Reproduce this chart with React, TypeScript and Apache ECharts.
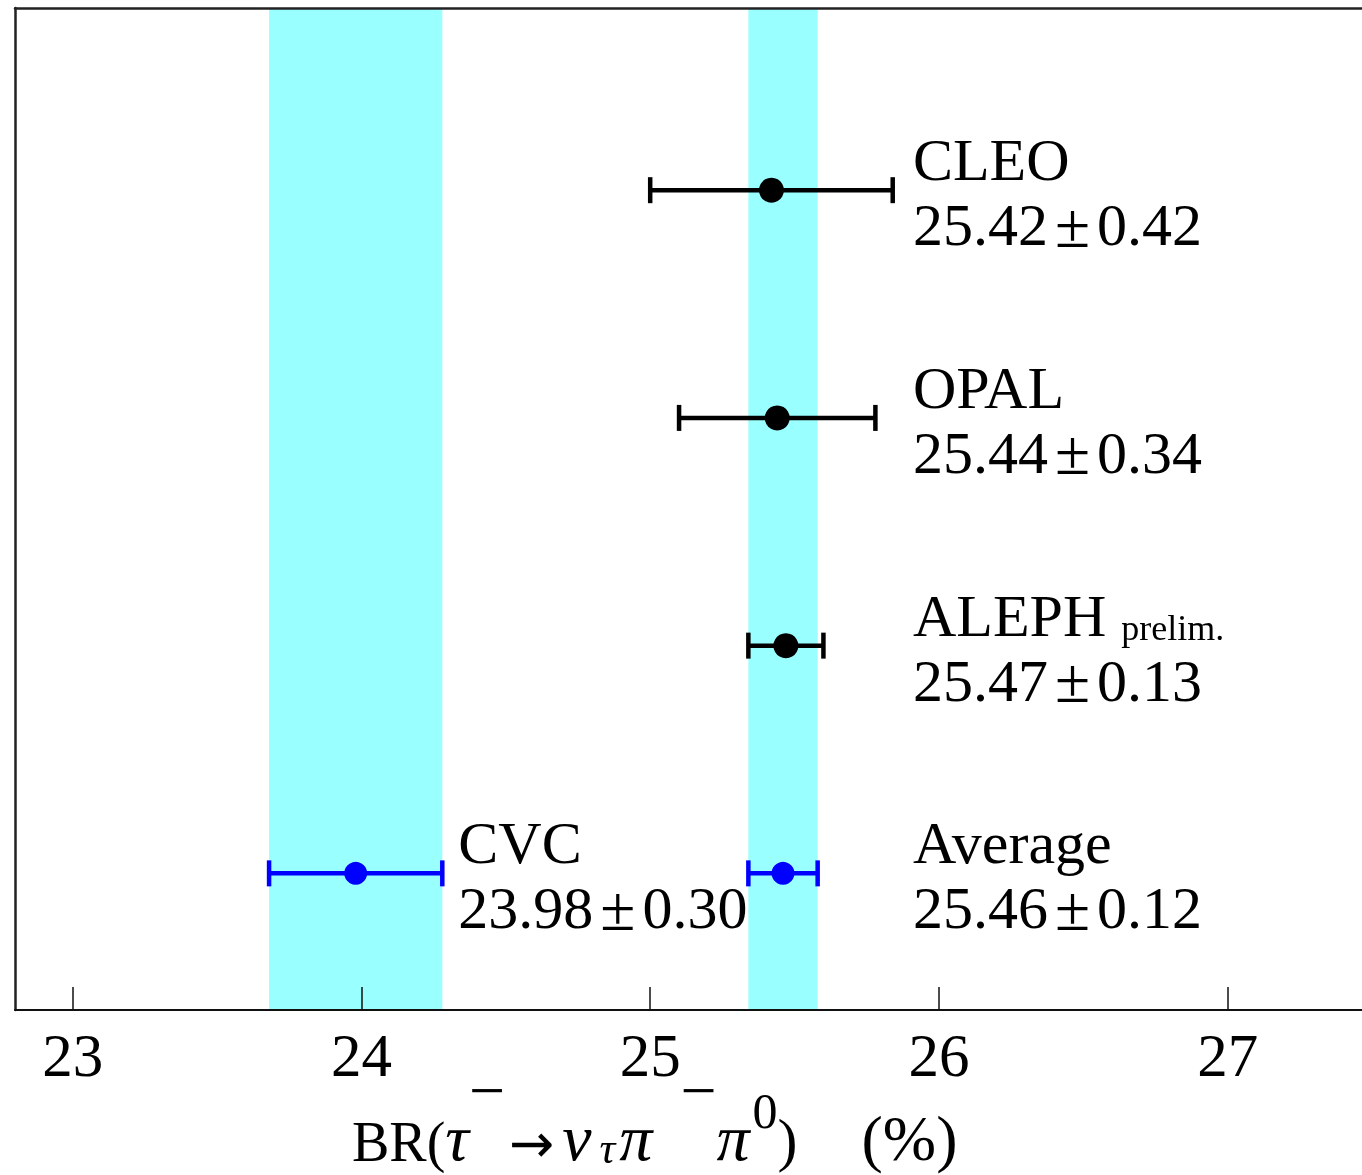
import React, { useEffect, useRef } from "react";
import * as echarts from "echarts";

// ---- data ----
const EXPERIMENTS = ["CLEO", "OPAL", "ALEPH", "Average"];
const NOTES = ["", "", "prelim.", ""];
const ROWS = [4, 3, 2, 1];
const VALUES = [25.42, 25.44, 25.47, 25.46];
const ERRORS = [0.42, 0.34, 0.13, 0.12];
const POINT_COLORS = ["#000000", "#000000", "#000000", "#0000ff"];

const CVC_NAME = "CVC";
const CVC_VALUE = 23.98;
const CVC_ERROR = 0.3;
const CVC_ROW = 1;

const X_TICKS = [23, 24, 25, 26, 27];
const X_MIN = 22.8;
const X_MAX = 27.5;
const Y_MIN = 0.4;
const Y_MAX = 4.8;
const LABEL_X = 25.91; // anchor of right-hand labels (axis units)

const FONT = "'Liberation Serif', 'Times New Roman', serif";
const BAND_COLOR = "#99ffff";

export default function App() {
  const ref = useRef<HTMLDivElement>(null);

  useEffect(() => {
    if (!ref.current) return;
    const chart = echarts.init(ref.current, undefined, { renderer: "svg" });

    const points = EXPERIMENTS.map((name, i) => ({
      value: [VALUES[i], ROWS[i], ERRORS[i]],
      name,
      note: NOTES[i],
      color: POINT_COLORS[i],
      side: "right",
    }));
    points.push({
      value: [CVC_VALUE, CVC_ROW, CVC_ERROR],
      name: CVC_NAME,
      note: "",
      color: "#0000ff",
      side: "after",
    });

    const avgIdx = EXPERIMENTS.indexOf("Average");
    const bands = [
      [CVC_VALUE - CVC_ERROR, CVC_VALUE + CVC_ERROR],
      [VALUES[avgIdx] - ERRORS[avgIdx], VALUES[avgIdx] + ERRORS[avgIdx]],
    ];

    const option: any = {
      animation: false,
      grid: { left: 15, top: 8, right: 0, bottom: 165 },
      xAxis: [
        {
          type: "value",
          min: X_MIN,
          max: X_MAX,
          z: 10,
          axisLine: { show: true, lineStyle: { color: "#111", width: 2 } },
          axisTick: {
            show: true,
            inside: true,
            length: 23,
            customValues: X_TICKS,
            lineStyle: { color: "#111", width: 1.5 },
          },
          axisLabel: {
            show: true,
            customValues: X_TICKS,
            fontFamily: FONT,
            fontSize: 61,
            lineHeight: 44,
            color: "#000",
            margin: 23,
          },
          splitLine: { show: false },
        },
        {
          type: "value",
          position: "top",
          min: X_MIN,
          max: X_MAX,
          z: 10,
          axisLine: { show: true, onZero: false, lineStyle: { color: "#222", width: 2.5 } },
          axisTick: { show: false },
          axisLabel: { show: false },
          splitLine: { show: false },
        },
      ],
      yAxis: {
        type: "value",
        min: Y_MIN,
        max: Y_MAX,
        z: 10,
        axisLine: { show: true, onZero: false, lineStyle: { color: "#222", width: 2.5 } },
        axisTick: { show: false },
        axisLabel: { show: false },
        splitLine: { show: false },
      },
      series: [
        {
          type: "custom",
          silent: true,
          z: 1,
          data: bands,
          renderItem: (params: any, api: any) => {
            const lo = api.coord([api.value(0), Y_MIN]);
            const hi = api.coord([api.value(1), Y_MAX]);
            return {
              type: "rect",
              shape: { x: lo[0], y: hi[1], width: hi[0] - lo[0], height: lo[1] - hi[1] },
              style: { fill: BAND_COLOR },
            };
          },
        },
        {
          type: "custom",
          silent: true,
          z: 5,
          clip: false,
          data: points,
          renderItem: (params: any, api: any) => {
            const item = points[params.dataIndex];
            const v = api.value(0);
            const row = api.value(1);
            const e = api.value(2);
            const [cx, cy] = api.coord([v, row]);
            const lo = api.coord([v - e, row])[0];
            const hi = api.coord([v + e, row])[0];
            const color = item.color;
            const capH = 13;
            const lw = 4.5;
            const r = color === "#000000" ? 12.5 : 11.5;
            const labelX =
              item.side === "right" ? api.coord([LABEL_X, row])[0] : hi + 16;
            const valueStr = v.toFixed(2);
            const errStr = e.toFixed(2);
            const nameText = item.note
              ? `{n|${item.name} }{s|${item.note}}`
              : `{n|${item.name}}`;
            return {
              type: "group",
              children: [
                {
                  type: "line",
                  shape: { x1: lo, y1: cy, x2: hi, y2: cy },
                  style: { stroke: color, lineWidth: lw },
                },
                {
                  type: "line",
                  shape: { x1: lo, y1: cy - capH, x2: lo, y2: cy + capH },
                  style: { stroke: color, lineWidth: lw },
                },
                {
                  type: "line",
                  shape: { x1: hi, y1: cy - capH, x2: hi, y2: cy + capH },
                  style: { stroke: color, lineWidth: lw },
                },
                {
                  type: "circle",
                  shape: { cx, cy, r },
                  style: { fill: color },
                },
                {
                  type: "text",
                  style: {
                    text: nameText,
                    x: labelX,
                    y: cy - 30,
                    align: "left",
                    verticalAlign: "middle",
                    fill: "#000",
                    rich: {
                      n: { fontFamily: FONT, fontSize: 60, lineHeight: 60, verticalAlign: "bottom", fill: "#000" },
                      s: { fontFamily: FONT, fontSize: 36, lineHeight: 44, verticalAlign: "bottom", fill: "#000" },
                    },
                  },
                },
                {
                  type: "text",
                  style: {
                    text: `{v|${valueStr}}{pm|±}{v|${errStr}}`,
                    x: labelX,
                    y: cy + 35,
                    align: "left",
                    verticalAlign: "middle",
                    fill: "#000",
                    rich: {
                      v: { fontFamily: FONT, fontSize: 60, lineHeight: 60, fill: "#000" },
                      pm: { fontFamily: FONT, fontSize: 64, lineHeight: 60, padding: [0, 7, 0, 7], fill: "#000" },
                    },
                  },
                },
              ],
            };
          },
        },
      ],
      graphic: [
        {
          type: "text",
          x: 352,
          y: 1170,
          silent: true,
          style: {
            text:
              "{m|BR(}{g|τ}{supm|−}{ar|→}{g|ν}{sub|τ}{g3|π}{supm|−}{g|π}{sup|0}{cp|)}{pc|(%)}",
            x: 0,
            y: 0,
            align: "left",
            verticalAlign: "bottom",
            fill: "#000",
            rich: {
              m: { fontFamily: FONT, fontSize: 56, lineHeight: 60, verticalAlign: "bottom", fill: "#000" },
              cp: { fontFamily: FONT, fontSize: 60, lineHeight: 60, verticalAlign: "bottom", fill: "#000" },
              g: { fontFamily: FONT, fontSize: 66, fontStyle: "italic", lineHeight: 60, verticalAlign: "bottom", fill: "#000" },
              g3: { fontFamily: FONT, fontSize: 66, fontStyle: "italic", lineHeight: 60, verticalAlign: "bottom", padding: [0, 28, 0, 0], fill: "#000" },
              ar: { fontFamily: "'DejaVu Sans', sans-serif", fontSize: 54, lineHeight: 60, verticalAlign: "bottom", padding: [0, 8, 0, 4], fill: "#000" },
              supm: { fontFamily: FONT, fontSize: 64, lineHeight: 20, verticalAlign: "bottom", padding: [0, 0, 48, 0], fill: "#000" },
              sup: { fontFamily: FONT, fontSize: 50, lineHeight: 50, verticalAlign: "bottom", padding: [0, 0, 34, 3], fill: "#000" },
              sub: { fontFamily: FONT, fontSize: 44, fontStyle: "italic", lineHeight: 44, verticalAlign: "bottom", padding: [0, 4, 0, 8], fill: "#000" },
              pc: { fontFamily: FONT, fontSize: 64, lineHeight: 64, verticalAlign: "bottom", padding: [0, 0, 0, 64], fill: "#000" },
            },
          },
        },
      ],
    };

    chart.setOption(option);
    return () => chart.dispose();
  }, []);

  return (
    <div
      ref={ref}
      style={{ position: "fixed", left: 0, top: 0, width: 1372, height: 1175 }}
    />
  );
}
